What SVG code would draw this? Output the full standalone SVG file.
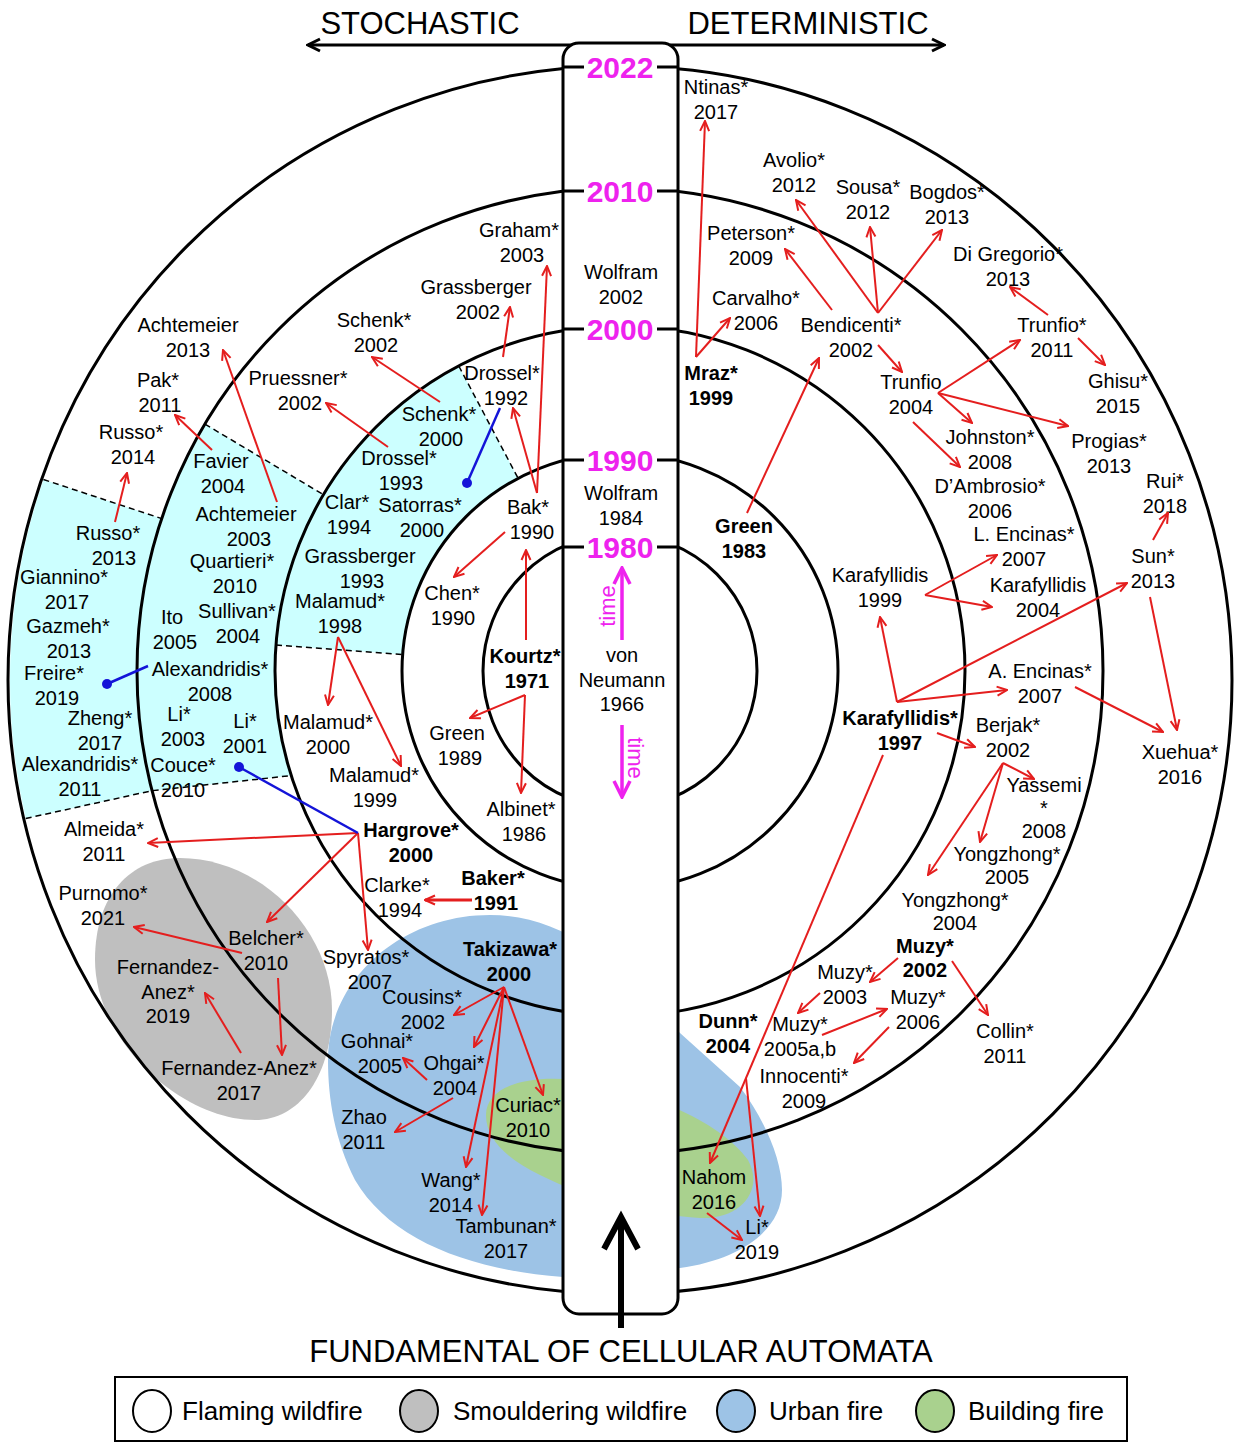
<svg xmlns="http://www.w3.org/2000/svg" width="1247" height="1443" viewBox="0 0 1247 1443">
<style>
.c{fill:none;stroke:#000;stroke-width:3}
.d{fill:none;stroke:#000;stroke-width:1.5;stroke-dasharray:6 4}
.a{fill:none;stroke:#e41e1e;stroke-width:2;marker-end:url(#ah)}
.bl{stroke:#1414d8;stroke-width:2.5}
text{font-family:"Liberation Sans",Arial,sans-serif;font-size:20px;text-anchor:middle;fill:#000}
.b{font-weight:bold}
.yr{font-size:30px;font-weight:bold;fill:#ee22ee}
.tm{font-size:22px;fill:#ee22ee}
.lg{font-size:26px;text-anchor:start}
.hd{font-size:31px}
</style>
<defs>
<marker id="ah" viewBox="0 0 12 12" refX="11" refY="6" markerWidth="12" markerHeight="12" markerUnits="userSpaceOnUse" orient="auto"><path d="M1,1.5 L11,6 L1,10.5" fill="none" stroke="#e41e1e" stroke-width="2"/></marker>
<marker id="mh" viewBox="0 0 20 20" refX="18" refY="10" markerWidth="20" markerHeight="20" markerUnits="userSpaceOnUse" orient="auto"><path d="M2,2 L18,10 L2,18" fill="none" stroke="#ee22ee" stroke-width="3.5"/></marker>
<marker id="kh" viewBox="0 0 16 16" refX="14" refY="8" markerWidth="16" markerHeight="16" markerUnits="userSpaceOnUse" orient="auto"><path d="M2,2 L14,8 L2,14" fill="none" stroke="#000" stroke-width="3"/></marker>
</defs>
<rect width="1247" height="1443" fill="#fff"/>

<g id="regions">
<path d="M518.1 478.3 A218 218 0 0 0 402.6 654.6 L276 645.1 A345 345 0 0 1 458.8 366 Z" fill="#ccffff"/>
<path d="M323.5 494.7 A345 345 0 0 0 291.3 775.6 L152 790.7 A483 483 0 0 1 204.9 424.1 Z" fill="#ccffff"/>
<path d="M161.7 518.6 A483 483 0 0 0 152 790.7 L25.7 818.5 A610 614 0 0 1 43.4 479.5 Z" fill="#ccffff"/>
<path d="M180 858 C260 858 332 930 332 1010 C332 1075 300 1120 255 1120 C180 1120 95 1040 95 960 C95 895 130 858 180 858 Z" fill="#bfbfbf"/>
<path d="M328 1060 C328 980 400 915 490 915 C560 915 620 960 680 1033 L740 1087 C765 1120 782 1160 782 1190 C782 1230 740 1260 680 1268 L563 1277 C470 1270 390 1240 355 1180 C335 1140 328 1100 328 1060 Z" fill="#9dc3e6"/>
<path d="M486 1115 C486 1085 530 1075 575 1080 C640 1088 720 1120 748 1160 C765 1190 740 1220 700 1218 C650 1215 590 1200 540 1175 C505 1158 486 1138 486 1115 Z" fill="#a9d18e"/>
</g>

<g id="rings">
<circle class="c" cx="620" cy="671" r="137"/>
<circle class="c" cx="620" cy="671" r="218"/>
<circle class="c" cx="620" cy="671" r="345"/>
<circle class="c" cx="620" cy="671" r="483"/>
<ellipse class="c" cx="620" cy="680" rx="612" ry="614"/>
</g>

<g id="dashes">
<line class="d" x1="43.4" y1="479.5" x2="161.7" y2="518.6"/>
<line class="d" x1="204.9" y1="424.1" x2="323.5" y2="494.7"/>
<line class="d" x1="458.8" y1="366" x2="518.1" y2="478.3"/>
<polyline class="d" points="25.7,818.5 152,790.7 291.3,775.6"/>
<line class="d" x1="276" y1="645.1" x2="402.6" y2="654.6"/>
</g>

<g id="axis">
<line x1="572" y1="45" x2="308" y2="45" stroke="#000" stroke-width="3" marker-end="url(#kh)"/>
<line x1="670" y1="45" x2="944" y2="45" stroke="#000" stroke-width="3" marker-end="url(#kh)"/>
<text class="hd" x="420" y="34">STOCHASTIC</text>
<text class="hd" x="808" y="34">DETERMINISTIC</text>
</g>

<g id="pillar">
<rect x="563" y="43" width="115" height="1271" rx="16" fill="#fff" stroke="#000" stroke-width="3"/>
<g stroke="#000" stroke-width="3">
<line x1="563" y1="67" x2="678" y2="67"/>
<line x1="563" y1="191" x2="678" y2="191"/>
<line x1="563" y1="329" x2="678" y2="329"/>
<line x1="563" y1="460" x2="678" y2="460"/>
<line x1="563" y1="547" x2="678" y2="547"/>
</g>
<g fill="#fff">
<rect x="584" y="53" width="73" height="28"/>
<rect x="584" y="177" width="73" height="28"/>
<rect x="584" y="315" width="73" height="28"/>
<rect x="584" y="446" width="73" height="28"/>
<rect x="584" y="533" width="73" height="28"/>
</g>
<text class="yr" x="620" y="78">2022</text>
<text class="yr" x="620" y="202">2010</text>
<text class="yr" x="620" y="340">2000</text>
<text class="yr" x="620" y="471">1990</text>
<text class="yr" x="620" y="558">1980</text>
<line x1="622" y1="640" x2="622" y2="568" stroke="#ee22ee" stroke-width="3.5" marker-end="url(#mh)"/>
<line x1="622" y1="725" x2="622" y2="797" stroke="#ee22ee" stroke-width="3.5" marker-end="url(#mh)"/>
<text class="tm" transform="translate(615,606) rotate(-90)">time</text>
<text class="tm" transform="translate(628,758) rotate(90)">time</text>
<line x1="621" y1="1328" x2="621" y2="1220" stroke="#000" stroke-width="6"/>
<polyline points="604,1249 621,1217 638,1249" fill="none" stroke="#000" stroke-width="6"/>
</g>

<g id="n-wolfram-2002"><text x="621" y="279"><tspan x="621">Wolfram</tspan><tspan x="621" dy="24.5">2002</tspan></text></g>
<g id="n-wolfram-1984"><text x="621" y="500"><tspan x="621">Wolfram</tspan><tspan x="621" dy="24.5">1984</tspan></text></g>
<g id="n-vonneumann-1966"><text x="622" y="662"><tspan x="622">von</tspan><tspan x="622" dy="24.5">Neumann</tspan><tspan x="622" dy="24.5">1966</tspan></text></g>

<g id="nodes">
<g id="n-achtemeier-2013"><text x="188" y="332"><tspan x="188">Achtemeier</tspan><tspan x="188" dy="24.5">2013</tspan></text></g>
<g id="n-pak-2011"><text x="158" y="387"><tspan x="158">Pak*</tspan><tspan x="160" dy="24.5">2011</tspan></text></g>
<g id="n-russo-2014"><text x="131" y="439"><tspan x="131">Russo*</tspan><tspan x="133" dy="24.5">2014</tspan></text></g>
<g id="n-favier-2004"><text x="221" y="468"><tspan x="221">Favier</tspan><tspan x="223" dy="24.5">2004</tspan></text></g>
<g id="n-pruessner-2002"><text x="298" y="385"><tspan x="298">Pruessner*</tspan><tspan x="300" dy="24.5">2002</tspan></text></g>
<g id="n-schenk-2002"><text x="374" y="327"><tspan x="374">Schenk*</tspan><tspan x="376" dy="24.5">2002</tspan></text></g>
<g id="n-grassberger-2002"><text x="476" y="294"><tspan x="476">Grassberger</tspan><tspan x="478" dy="24.5">2002</tspan></text></g>
<g id="n-graham-2003"><text x="519" y="237"><tspan x="519">Graham*</tspan><tspan x="522" dy="24.5">2003</tspan></text></g>
<g id="n-drossel-1992"><text x="502" y="380"><tspan x="502">Drossel*</tspan><tspan x="506" dy="24.5">1992</tspan></text></g>
<g id="n-schenk-2000"><text x="439" y="421"><tspan x="439">Schenk*</tspan><tspan x="441" dy="24.5">2000</tspan></text></g>
<g id="n-drossel-1993"><text x="399" y="465"><tspan x="399">Drossel*</tspan><tspan x="401" dy="24.5">1993</tspan></text></g>
<g id="n-clar-1994"><text x="347" y="509"><tspan x="347">Clar*</tspan><tspan x="349" dy="24.5">1994</tspan></text></g>
<g id="n-satorras-2000"><text x="420" y="512"><tspan x="420">Satorras*</tspan><tspan x="422" dy="24.5">2000</tspan></text></g>
<g id="n-grassberger-1993"><text x="360" y="563"><tspan x="360">Grassberger</tspan><tspan x="362" dy="24.5">1993</tspan></text></g>
<g id="n-malamud-1998"><text x="340" y="608"><tspan x="340">Malamud*</tspan><tspan x="340" dy="24.5">1998</tspan></text></g>
<g id="n-bak-1990"><text x="530" y="514"><tspan x="528">Bak*</tspan><tspan x="532" dy="24.5">1990</tspan></text></g>
<g id="n-chen-1990"><text x="452" y="600"><tspan x="452">Chen*</tspan><tspan x="453" dy="24.5">1990</tspan></text></g>
<g id="n-kourtz-1971"><text class="b" x="525" y="663"><tspan x="525">Kourtz*</tspan><tspan x="527" dy="24.5">1971</tspan></text></g>
<g id="n-green-1989"><text x="458" y="740"><tspan x="457">Green</tspan><tspan x="460" dy="24.5">1989</tspan></text></g>
<g id="n-albinet-1986"><text x="522" y="816"><tspan x="521">Albinet*</tspan><tspan x="524" dy="24.5">1986</tspan></text></g>
<g id="n-malamud-2000"><text x="328" y="729"><tspan x="328">Malamud*</tspan><tspan x="328" dy="24.5">2000</tspan></text></g>
<g id="n-malamud-1999"><text x="374" y="782"><tspan x="374">Malamud*</tspan><tspan x="375" dy="24.5">1999</tspan></text></g>
<g id="n-hargrove-2000"><text class="b" x="411" y="837"><tspan x="411">Hargrove*</tspan><tspan x="411" dy="24.5">2000</tspan></text></g>
<g id="n-clarke-1994"><text x="398" y="892"><tspan x="397">Clarke*</tspan><tspan x="400" dy="24.5">1994</tspan></text></g>
<g id="n-baker-1991"><text class="b" x="494" y="885"><tspan x="493">Baker*</tspan><tspan x="496" dy="24.5">1991</tspan></text></g>
<g id="n-spyratos-2007"><text x="367" y="964"><tspan x="366">Spyratos*</tspan><tspan x="370" dy="24.5">2007</tspan></text></g>
<g id="n-takizawa-2000"><text class="b" x="510" y="956"><tspan x="510">Takizawa*</tspan><tspan x="509" dy="24.5">2000</tspan></text></g>
<g id="n-cousins-2002"><text x="422" y="1004"><tspan x="422">Cousins*</tspan><tspan x="423" dy="24.5">2002</tspan></text></g>
<g id="n-gohnai-2005"><text x="378" y="1048"><tspan x="377">Gohnai*</tspan><tspan x="380" dy="24.5">2005</tspan></text></g>
<g id="n-ohgai-2004"><text x="454" y="1070"><tspan x="454">Ohgai*</tspan><tspan x="455" dy="24.5">2004</tspan></text></g>
<g id="n-curiac-2010"><text x="528" y="1112"><tspan x="528">Curiac*</tspan><tspan x="528" dy="24.5">2010</tspan></text></g>
<g id="n-zhao-2011"><text x="364" y="1124"><tspan x="364">Zhao</tspan><tspan x="364" dy="24.5">2011</tspan></text></g>
<g id="n-wang-2014"><text x="451" y="1187"><tspan x="451">Wang*</tspan><tspan x="451" dy="24.5">2014</tspan></text></g>
<g id="n-tambunan-2017"><text x="506" y="1233"><tspan x="506">Tambunan*</tspan><tspan x="506" dy="24.5">2017</tspan></text></g>
<g id="n-russo-2013"><text x="111" y="540"><tspan x="108">Russo*</tspan><tspan x="114" dy="24.5">2013</tspan></text></g>
<g id="n-giannino-2017"><text x="65" y="584"><tspan x="64">Giannino*</tspan><tspan x="67" dy="24.5">2017</tspan></text></g>
<g id="n-gazmeh-2013"><text x="68" y="633"><tspan x="68">Gazmeh*</tspan><tspan x="69" dy="24.5">2013</tspan></text></g>
<g id="n-freire-2019"><text x="55" y="680"><tspan x="54">Freire*</tspan><tspan x="57" dy="24.5">2019</tspan></text></g>
<g id="n-zheng-2017"><text x="100" y="725"><tspan x="100">Zheng*</tspan><tspan x="100" dy="24.5">2017</tspan></text></g>
<g id="n-alexandridis-2011"><text x="80" y="771"><tspan x="80">Alexandridis*</tspan><tspan x="80" dy="24.5">2011</tspan></text></g>
<g id="n-achtemeier-2003"><text x="247" y="521"><tspan x="246">Achtemeier</tspan><tspan x="249" dy="24.5">2003</tspan></text></g>
<g id="n-quartieri-2010"><text x="233" y="568"><tspan x="232">Quartieri*</tspan><tspan x="235" dy="24.5">2010</tspan></text></g>
<g id="n-ito-2005"><text x="173" y="624"><tspan x="172">Ito</tspan><tspan x="175" dy="24.5">2005</tspan></text></g>
<g id="n-sullivan-2004"><text x="237" y="618"><tspan x="237">Sullivan*</tspan><tspan x="238" dy="24.5">2004</tspan></text></g>
<g id="n-alexandridis-2008"><text x="210" y="676"><tspan x="210">Alexandridis*</tspan><tspan x="210" dy="24.5">2008</tspan></text></g>
<g id="n-li-2003"><text x="181" y="721"><tspan x="179">Li*</tspan><tspan x="183" dy="24.5">2003</tspan></text></g>
<g id="n-li-2001"><text x="245" y="728"><tspan x="245">Li*</tspan><tspan x="245" dy="24.5">2001</tspan></text></g>
<g id="n-couce-2010"><text x="183" y="772"><tspan x="183">Couce*</tspan><tspan x="183" dy="24.5">2010</tspan></text></g>
<g id="n-almeida-2011"><text x="104" y="836"><tspan x="104">Almeida*</tspan><tspan x="104" dy="24.5">2011</tspan></text></g>
<g id="n-purnomo-2021"><text x="103" y="900"><tspan x="103">Purnomo*</tspan><tspan x="103" dy="24.5">2021</tspan></text></g>
<g id="n-belcher-2010"><text x="266" y="945"><tspan x="266">Belcher*</tspan><tspan x="266" dy="24.5">2010</tspan></text></g>
<g id="n-fernandezanez-2019"><text x="168" y="974"><tspan x="168">Fernandez-</tspan><tspan x="168" dy="24.5">Anez*</tspan><tspan x="168" dy="24.5">2019</tspan></text></g>
<g id="n-fernandezanez-2017"><text x="239" y="1075"><tspan x="239">Fernandez-Anez*</tspan><tspan x="239" dy="24.5">2017</tspan></text></g>

<g id="n-ntinas-2017"><text x="716" y="94"><tspan x="716">Ntinas*</tspan><tspan x="716" dy="24.5">2017</tspan></text></g>
<g id="n-avolio-2012"><text x="794" y="167"><tspan x="794">Avolio*</tspan><tspan x="794" dy="24.5">2012</tspan></text></g>
<g id="n-sousa-2012"><text x="868" y="194"><tspan x="868">Sousa*</tspan><tspan x="868" dy="24.5">2012</tspan></text></g>
<g id="n-bogdos-2013"><text x="947" y="199"><tspan x="947">Bogdos*</tspan><tspan x="947" dy="24.5">2013</tspan></text></g>
<g id="n-peterson-2009"><text x="751" y="240"><tspan x="751">Peterson*</tspan><tspan x="751" dy="24.5">2009</tspan></text></g>
<g id="n-digregorio-2013"><text x="1008" y="261"><tspan x="1008">Di Gregorio*</tspan><tspan x="1008" dy="24.5">2013</tspan></text></g>
<g id="n-carvalho-2006"><text x="756" y="305"><tspan x="756">Carvalho*</tspan><tspan x="756" dy="24.5">2006</tspan></text></g>
<g id="n-bendicenti-2002"><text x="851" y="332"><tspan x="851">Bendicenti*</tspan><tspan x="851" dy="24.5">2002</tspan></text></g>
<g id="n-trunfio-2011"><text x="1052" y="332"><tspan x="1052">Trunfio*</tspan><tspan x="1052" dy="24.5">2011</tspan></text></g>
<g id="n-mraz-1999"><text class="b" x="711" y="380"><tspan x="711">Mraz*</tspan><tspan x="711" dy="24.5">1999</tspan></text></g>
<g id="n-trunfio-2004"><text x="911" y="389"><tspan x="911">Trunfio</tspan><tspan x="911" dy="24.5">2004</tspan></text></g>
<g id="n-ghisu-2015"><text x="1118" y="388"><tspan x="1118">Ghisu*</tspan><tspan x="1118" dy="24.5">2015</tspan></text></g>
<g id="n-johnston-2008"><text x="990" y="444"><tspan x="990">Johnston*</tspan><tspan x="990" dy="24.5">2008</tspan></text></g>
<g id="n-progias-2013"><text x="1109" y="448"><tspan x="1109">Progias*</tspan><tspan x="1109" dy="24.5">2013</tspan></text></g>
<g id="n-dambrosio-2006"><text x="990" y="493"><tspan x="990">D’Ambrosio*</tspan><tspan x="990" dy="24.5">2006</tspan></text></g>
<g id="n-rui-2018"><text x="1165" y="488"><tspan x="1165">Rui*</tspan><tspan x="1165" dy="24.5">2018</tspan></text></g>
<g id="n-green-1983"><text class="b" x="744" y="533"><tspan x="744">Green</tspan><tspan x="744" dy="24.5">1983</tspan></text></g>
<g id="n-lencinas-2007"><text x="1024" y="541"><tspan x="1024">L. Encinas*</tspan><tspan x="1024" dy="24.5">2007</tspan></text></g>
<g id="n-sun-2013"><text x="1153" y="563"><tspan x="1153">Sun*</tspan><tspan x="1153" dy="24.5">2013</tspan></text></g>
<g id="n-karafyllidis-1999"><text x="880" y="582"><tspan x="880">Karafyllidis</tspan><tspan x="880" dy="24.5">1999</tspan></text></g>
<g id="n-karafyllidis-2004"><text x="1038" y="592"><tspan x="1038">Karafyllidis</tspan><tspan x="1038" dy="24.5">2004</tspan></text></g>
<g id="n-aencinas-2007"><text x="1040" y="678"><tspan x="1040">A. Encinas*</tspan><tspan x="1040" dy="24.5">2007</tspan></text></g>
<g id="n-karafyllidis-1997"><text class="b" x="900" y="725"><tspan x="900">Karafyllidis*</tspan><tspan x="900" dy="24.5">1997</tspan></text></g>
<g id="n-berjak-2002"><text x="1008" y="732"><tspan x="1008">Berjak*</tspan><tspan x="1008" dy="24.5">2002</tspan></text></g>
<g id="n-xuehua-2016"><text x="1180" y="759"><tspan x="1180">Xuehua*</tspan><tspan x="1180" dy="24.5">2016</tspan></text></g>
<g id="n-yassemi-2008"><text x="1044" y="792"><tspan x="1044">Yassemi</tspan><tspan x="1044" dy="23">*</tspan><tspan x="1044" dy="23">2008</tspan></text></g>
<g id="n-yongzhong-2005"><text x="1007" y="861"><tspan x="1007">Yongzhong*</tspan><tspan x="1007" dy="23">2005</tspan></text></g>
<g id="n-yongzhong-2004"><text x="955" y="907"><tspan x="955">Yongzhong*</tspan><tspan x="955" dy="23">2004</tspan></text></g>
<g id="n-muzy-2002"><text class="b" x="925" y="953"><tspan x="925">Muzy*</tspan><tspan x="925" dy="24">2002</tspan></text></g>
<g id="n-muzy-2003"><text x="845" y="979"><tspan x="845">Muzy*</tspan><tspan x="845" dy="24.5">2003</tspan></text></g>
<g id="n-muzy-2006"><text x="918" y="1004"><tspan x="918">Muzy*</tspan><tspan x="918" dy="24.5">2006</tspan></text></g>
<g id="n-dunn-2004"><text class="b" x="728" y="1028"><tspan x="728">Dunn*</tspan><tspan x="728" dy="24.5">2004</tspan></text></g>
<g id="n-muzy-2005"><text x="800" y="1031"><tspan x="800">Muzy*</tspan><tspan x="800" dy="24.5">2005a,b</tspan></text></g>
<g id="n-collin-2011"><text x="1005" y="1038"><tspan x="1005">Collin*</tspan><tspan x="1005" dy="24.5">2011</tspan></text></g>
<g id="n-innocenti-2009"><text x="804" y="1083"><tspan x="804">Innocenti*</tspan><tspan x="804" dy="24.5">2009</tspan></text></g>
<g id="n-nahom-2016"><text x="714" y="1184"><tspan x="714">Nahom</tspan><tspan x="714" dy="24.5">2016</tspan></text></g>
<g id="n-li-2019"><text x="757" y="1234"><tspan x="757">Li*</tspan><tspan x="757" dy="24.5">2019</tspan></text></g>
</g>

<g id="connectors">
<line class="a" x1="526" y1="640" x2="526" y2="550"/>
<line class="a" x1="525" y1="695" x2="470" y2="718"/>
<line class="a" x1="525" y1="695" x2="521" y2="793"/>
<line class="a" x1="505" y1="532" x2="454" y2="577"/>
<line class="a" x1="537" y1="493" x2="513" y2="408"/>
<line class="a" x1="537" y1="493" x2="547" y2="266"/>
<line class="a" x1="503" y1="357" x2="510" y2="307"/>
<line class="a" x1="388" y1="447" x2="326" y2="403"/>
<line class="a" x1="440" y1="402" x2="372" y2="357"/>
<line class="a" x1="277" y1="502" x2="223" y2="350"/>
<line class="a" x1="212" y1="450" x2="175" y2="415"/>
<line class="a" x1="115" y1="522" x2="127" y2="473"/>
<line class="a" x1="338" y1="637" x2="328" y2="705"/>
<line class="a" x1="338" y1="637" x2="401" y2="766"/>
<line class="a" x1="358" y1="833" x2="148" y2="843"/>
<line class="a" x1="358" y1="833" x2="267" y2="922"/>
<line class="a" x1="358" y1="833" x2="368" y2="950"/>
<line class="a" x1="242" y1="953" x2="134" y2="927"/>
<line class="a" x1="278" y1="978" x2="282" y2="1055"/>
<line class="a" x1="241" y1="1053" x2="205" y2="993"/>
<line class="a" x1="472" y1="900" x2="425" y2="900" style="stroke-width:2.8"/>
<line class="a" x1="504" y1="987" x2="454" y2="1015"/>
<line class="a" x1="504" y1="987" x2="474" y2="1047"/>
<line class="a" x1="504" y1="987" x2="543" y2="1095"/>
<line class="a" x1="504" y1="987" x2="466" y2="1167"/>
<line class="a" x1="504" y1="987" x2="482" y2="1215"/>
<line class="a" x1="427" y1="1080" x2="403" y2="1058"/>
<line class="a" x1="453" y1="1098" x2="395" y2="1132"/>
<line class="a" x1="696" y1="357" x2="705" y2="121"/>
<line class="a" x1="696" y1="357" x2="730" y2="318"/>
<line class="a" x1="832" y1="310" x2="785" y2="249"/>
<line class="a" x1="878" y1="313" x2="796" y2="200"/>
<line class="a" x1="878" y1="313" x2="870" y2="227"/>
<line class="a" x1="878" y1="313" x2="942" y2="230"/>
<line class="a" x1="878" y1="345" x2="902" y2="372"/>
<line class="a" x1="1048" y1="315" x2="1010" y2="287"/>
<line class="a" x1="1078" y1="338" x2="1105" y2="365"/>
<line class="a" x1="938" y1="393" x2="1020" y2="340"/>
<line class="a" x1="938" y1="393" x2="972" y2="423"/>
<line class="a" x1="938" y1="393" x2="1068" y2="426"/>
<line class="a" x1="913" y1="422" x2="960" y2="467"/>
<line class="a" x1="1153" y1="540" x2="1168" y2="513"/>
<line class="a" x1="1150" y1="597" x2="1177" y2="730"/>
<line class="a" x1="925" y1="595" x2="997" y2="555"/>
<line class="a" x1="925" y1="595" x2="992" y2="607"/>
<line class="a" x1="897" y1="702" x2="880" y2="617"/>
<line class="a" x1="897" y1="702" x2="1007" y2="690"/>
<line class="a" x1="897" y1="702" x2="1127" y2="583"/>
<line class="a" x1="937" y1="733" x2="975" y2="747"/>
<line class="a" x1="883" y1="755" x2="710" y2="1163"/>
<line class="a" x1="1075" y1="687" x2="1163" y2="732"/>
<line class="a" x1="1003" y1="763" x2="1034" y2="779"/>
<line class="a" x1="1003" y1="763" x2="980" y2="842"/>
<line class="a" x1="1003" y1="763" x2="928" y2="875"/>
<line class="a" x1="898" y1="958" x2="870" y2="982"/>
<line class="a" x1="952" y1="961" x2="988" y2="1015"/>
<line class="a" x1="820" y1="993" x2="798" y2="1013"/>
<line class="a" x1="822" y1="1035" x2="887" y2="1009"/>
<line class="a" x1="889" y1="1027" x2="854" y2="1063"/>
<line class="a" x1="746" y1="1078" x2="760" y2="1216"/>
<line class="a" x1="707" y1="1213" x2="742" y2="1240"/>
<line class="a" x1="747" y1="513" x2="819" y2="358"/>
<line class="bl" x1="500" y1="408" x2="467" y2="483"/>
<circle cx="467" cy="483" r="5" fill="#1414d8"/>
<line class="bl" x1="148" y1="666" x2="107" y2="684"/>
<circle cx="107" cy="684" r="5" fill="#1414d8"/>
<line class="bl" x1="358" y1="833" x2="239" y2="767"/>
<circle cx="239" cy="767" r="5" fill="#1414d8"/>
</g>

<g id="footer">
<text class="hd" x="621" y="1362">FUNDAMENTAL OF CELLULAR AUTOMATA</text>
<rect x="115" y="1377" width="1012" height="64" fill="none" stroke="#000" stroke-width="2"/>
<ellipse cx="152" cy="1411" rx="19" ry="21" fill="#fff" stroke="#000" stroke-width="2"/>
<text class="lg" x="182" y="1420">Flaming wildfire</text>
<ellipse cx="419" cy="1411" rx="19" ry="21" fill="#bfbfbf" stroke="#000" stroke-width="2"/>
<text class="lg" x="453" y="1420">Smouldering wildfire</text>
<ellipse cx="736" cy="1411" rx="19" ry="21" fill="#9dc3e6" stroke="#000" stroke-width="2"/>
<text class="lg" x="769" y="1420">Urban fire</text>
<ellipse cx="935" cy="1411" rx="19" ry="21" fill="#a9d18e" stroke="#000" stroke-width="2"/>
<text class="lg" x="968" y="1420">Building fire</text>
</g>
</svg>
